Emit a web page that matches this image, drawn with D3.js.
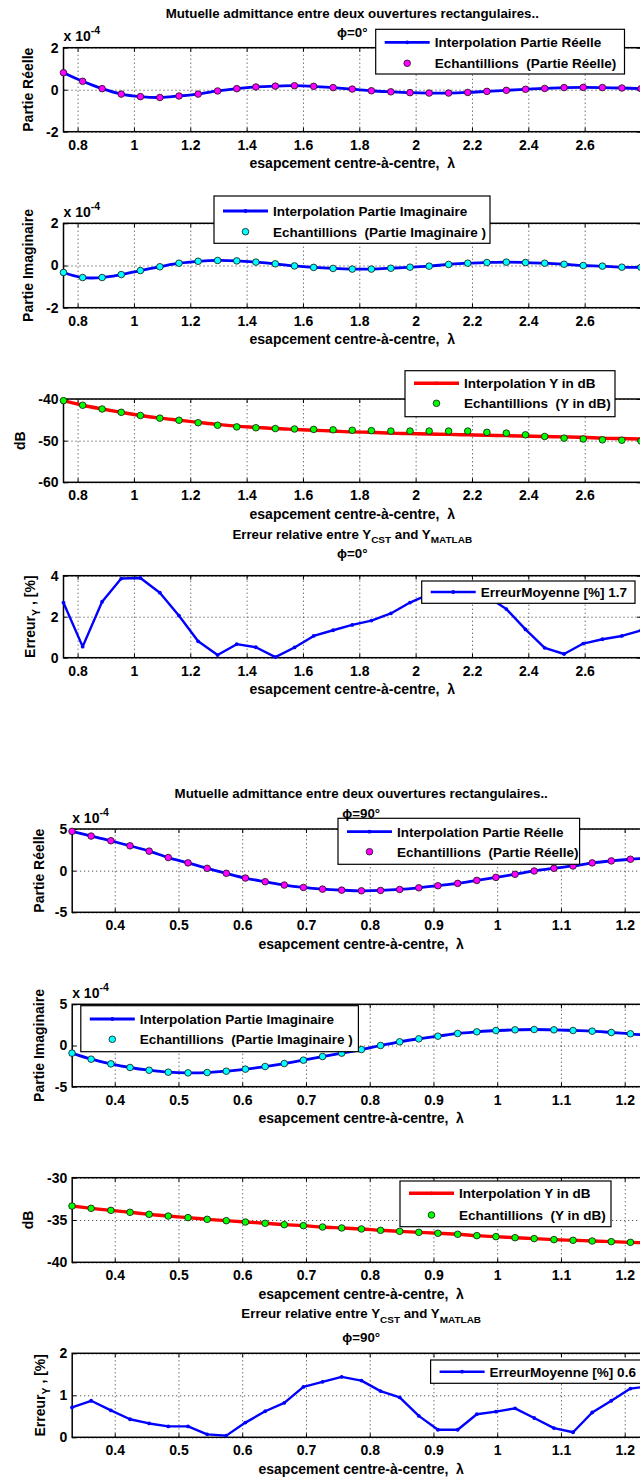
<!DOCTYPE html>
<html><head><meta charset="utf-8">
<script src="https://cdn.jsdelivr.net/npm/d3@7"></script>
<style>body{margin:0;background:#fff;} svg{display:block;} text{white-space:pre;}</style>
</head><body>
<script>
// ---------- DATA ----------
const xTop = [0.75,0.818,0.887,0.955,1.023,1.092,1.16,1.228,1.297,1.365,1.433,1.502,1.57,1.638,1.707,1.775,1.843,1.912,1.98,2.048,2.117,2.185,2.253,2.322,2.39,2.458,2.527,2.595,2.663,2.732,2.8];
const reTop = [0.81,0.40,0.05,-0.21,-0.33,-0.37,-0.30,-0.21,-0.06,0.05,0.13,0.17,0.19,0.16,0.10,0.03,-0.05,-0.10,-0.14,-0.16,-0.16,-0.13,-0.08,-0.03,0.02,0.06,0.10,0.11,0.10,0.08,0.05];
const imTop = [-0.33,-0.57,-0.57,-0.43,-0.24,-0.06,0.11,0.20,0.24,0.22,0.16,0.08,-0.02,-0.09,-0.14,-0.17,-0.17,-0.13,-0.08,-0.03,0.05,0.11,0.14,0.16,0.14,0.11,0.06,0.0,-0.03,-0.08,-0.09];
const dbTopSamples = [-40.4,-41.5,-42.4,-43.2,-43.95,-44.6,-45.1,-45.7,-46.3,-46.7,-46.9,-47.1,-47.2,-47.3,-47.4,-47.5,-47.6,-47.7,-47.7,-47.7,-47.7,-47.7,-48.0,-48.2,-48.6,-49.0,-49.4,-49.6,-49.8,-49.9,-50.1];
const dbTopInterp = [-40.4,-41.5,-42.4,-43.2,-43.95,-44.6,-45.1,-45.6,-46.1,-46.5,-46.8,-47.1,-47.3,-47.5,-47.7,-47.9,-48.0,-48.2,-48.3,-48.4,-48.5,-48.6,-48.7,-48.8,-48.9,-49.0,-49.1,-49.2,-49.4,-49.5,-49.6];
const errTop = [2.68,0.54,2.73,3.86,3.89,3.17,2.05,0.80,0.13,0.66,0.51,0.03,0.50,1.06,1.34,1.60,1.81,2.16,2.69,3.1,3.4,3.4,3.0,2.37,1.38,0.48,0.18,0.69,0.90,1.06,1.33];

const x90 = [0.333,0.363,0.394,0.424,0.454,0.484,0.515,0.545,0.575,0.605,0.636,0.666,0.696,0.726,0.756,0.787,0.817,0.847,0.877,0.907,0.938,0.968,0.998,1.028,1.058,1.089,1.119,1.149,1.179,1.209,1.24];
const re90 = [4.72,4.15,3.59,2.98,2.34,1.57,0.93,0.28,-0.32,-0.89,-1.33,-1.73,-2.02,-2.22,-2.34,-2.42,-2.38,-2.26,-2.06,-1.81,-1.53,-1.17,-0.81,-0.44,-0.04,0.28,0.56,0.93,1.17,1.37,1.53];
const im90 = [-0.93,-1.66,-2.23,-2.67,-3.0,-3.24,-3.32,-3.28,-3.12,-2.87,-2.55,-2.19,-1.78,-1.34,-0.93,-0.49,0.0,0.45,0.81,1.13,1.46,1.66,1.82,1.90,1.94,1.90,1.82,1.74,1.58,1.42,1.18];
const db90 = [-33.35,-33.62,-33.86,-34.09,-34.33,-34.53,-34.72,-34.92,-35.08,-35.24,-35.39,-35.55,-35.67,-35.83,-35.94,-36.06,-36.22,-36.34,-36.46,-36.57,-36.69,-36.85,-36.97,-37.09,-37.2,-37.32,-37.4,-37.48,-37.56,-37.64,-37.72];
const err90 = [0.71,0.87,0.64,0.43,0.33,0.26,0.26,0.07,0.04,0.35,0.62,0.82,1.20,1.32,1.44,1.35,1.10,0.95,0.51,0.18,0.18,0.55,0.61,0.69,0.46,0.22,0.12,0.59,0.87,1.16,1.22];

const xTicksTop = [0.8,1,1.2,1.4,1.6,1.8,2,2.2,2.4,2.6];
const xTicks90 = [0.4,0.5,0.6,0.7,0.8,0.9,1,1.1,1.2];
const yTicksAdm = [-2,0,2];
const yTicksDbTop = [-60,-50,-40];
const yTicksErrTop = [0,2,4];
const yTicksAdm90 = [-5,0,5];
const yTicksDb90 = [-40,-35,-30];
const yTicksErr90 = [0,1,2];

const mainTitle = "Mutuelle admittance entre deux ouvertures rectangulaires..";
const xLabel = "esapcement centre-à-centre,  λ";

// ---------- STYLE ----------
const FONT = "'Liberation Sans', Arial, Helvetica, sans-serif";
const BLUE = "#0000ff", RED = "#ff0000", MAG = "#ff00ff", CYAN = "#00ffff", GREEN = "#00ff00";

const svg = d3.select("body").append("svg").attr("width", 640).attr("height", 1479);

function styleText(sel, size) {
  sel.attr("font-family", FONT).attr("font-weight", "bold").attr("font-size", size).attr("fill", "#000")
    .attr("xml:space", "preserve").style("white-space", "pre");
}

function rich(sel, parts, size) {
  parts.forEach(p => {
    const t = sel.append("tspan").text(p.t);
    if (p.sub) t.attr("font-size", size * 0.75).attr("dy", size * 0.35);
    else if (p.sup) t.attr("font-size", size * 0.75).attr("dy", -size * 0.5);
    else if (p.reset) t.attr("dy", -p.reset);
  });
}

function panel(c) {
  const x = d3.scaleLinear().domain(c.xd).range([c.l, c.r]);
  const y = d3.scaleLinear().domain(c.yd).range([c.b, c.t]);
  const h = c.b - c.t, w = c.r - c.l;
  const g = svg.append("g");

  // grid
  g.append("g").attr("transform", `translate(0,${c.b})`)
    .call(d3.axisBottom(x).tickValues(c.xt).tickSize(-h).tickFormat(""))
    .call(s => { s.select(".domain").remove(); s.selectAll("line").attr("stroke", "#333").attr("stroke-dasharray", "1,3"); });
  g.append("g").attr("transform", `translate(${c.l},0)`)
    .call(d3.axisLeft(y).tickValues(c.yt).tickSize(-w).tickFormat(""))
    .call(s => { s.select(".domain").remove(); s.selectAll("line").attr("stroke", "#333").attr("stroke-dasharray", "1,3"); });

  // axes with inward ticks
  const fixAxis = s => { s.select(".domain").remove(); s.selectAll("line").attr("stroke", "#000").attr("stroke-width", 1); styleText(s.selectAll("text"), 14); };
  g.append("g").attr("transform", `translate(0,${c.b})`)
    .call(d3.axisBottom(x).tickValues(c.xt).tickSizeInner(-4).tickSizeOuter(0).tickPadding(8).tickFormat(d => String(d)))
    .call(fixAxis);
  g.append("g").attr("transform", `translate(0,${c.t})`)
    .call(d3.axisTop(x).tickValues(c.xt).tickSizeInner(-4).tickSizeOuter(0).tickFormat(""))
    .call(fixAxis);
  g.append("g").attr("transform", `translate(${c.l},0)`)
    .call(d3.axisLeft(y).tickValues(c.yt).tickSizeInner(-4).tickSizeOuter(0).tickPadding(5).tickFormat(d => String(d)))
    .call(fixAxis);
  g.append("g").attr("transform", `translate(${c.r},0)`)
    .call(d3.axisRight(y).tickValues(c.yt).tickSizeInner(-4).tickSizeOuter(0).tickFormat(""))
    .call(fixAxis);

  g.append("rect").attr("x", c.l).attr("y", c.t).attr("width", w).attr("height", h)
    .attr("fill", "none").attr("stroke", "#000").attr("stroke-width", 1.5);

  // series
  c.series.forEach(s => {
    if (s.type === "line") {
      const line = d3.line().x((d, i) => x(s.xs[i])).y(d => y(d)).curve(s.smooth ? d3.curveCatmullRom : d3.curveLinear);
      g.append("path").datum(s.ys).attr("d", line).attr("fill", "none")
        .attr("stroke", s.color).attr("stroke-width", s.width).attr("stroke-linejoin", "round");
      if (s.dots) {
        g.append("g").selectAll("circle").data(s.ys).join("circle")
          .attr("cx", (d, i) => x(s.xs[i])).attr("cy", d => y(d)).attr("r", 1.9).attr("fill", s.color);
      }
    } else {
      g.append("g").selectAll("circle").data(s.ys).join("circle")
        .attr("cx", (d, i) => x(s.xs[i])).attr("cy", d => y(d)).attr("r", 3.3)
        .attr("fill", s.color).attr("stroke", "#111").attr("stroke-width", 0.8);
    }
  });

  // legend
  const L = c.legend;
  const lg = svg.append("g");
  lg.append("rect").attr("x", L.x).attr("y", L.y).attr("width", L.w).attr("height", L.h)
    .attr("fill", "#fff").attr("stroke", "#000").attr("stroke-width", 1.2);
  L.items.forEach((it, i) => {
    const ry = L.rows[i];
    if (it.type === "line") {
      lg.append("line").attr("x1", L.x + 9).attr("x2", L.x + 54).attr("y1", ry).attr("y2", ry)
        .attr("stroke", it.color).attr("stroke-width", it.width);
      lg.append("circle").attr("cx", L.x + 31.5).attr("cy", ry).attr("r", 1.9).attr("fill", it.color);
    } else {
      lg.append("circle").attr("cx", L.x + 31.5).attr("cy", ry).attr("r", 3.3)
        .attr("fill", it.color).attr("stroke", "#111").attr("stroke-width", 0.8);
    }
    styleText(lg.append("text").attr("x", L.x + 59).attr("y", ry).attr("dy", "0.36em").text(it.label), 13.5);
  });

  // titles
  if (c.title) {
    c.title.forEach(tl => {
      const t = svg.append("text").attr("x", (c.l + c.r) / 2).attr("y", tl.y).attr("text-anchor", "middle");
      styleText(t, 13.3);
      rich(t, tl.parts, 13.3);
    });
  }
  // y label
  const yl = svg.append("text").attr("text-anchor", "middle")
    .attr("transform", `translate(${c.ylx},${(c.t + c.b) / 2}) rotate(-90)`);
  styleText(yl, 14);
  rich(yl, c.ylabel, 14);
  // x label
  styleText(svg.append("text").attr("x", (c.l + c.r) / 2).attr("y", c.b + 36.5)
    .attr("text-anchor", "middle").text(xLabel), 14);
  // exponent
  if (c.expo) {
    const e = svg.append("text").attr("x", c.l).attr("y", c.t - 6.5);
    styleText(e, 14);
    rich(e, [{t: "x 10"}, {t: "-4", sup: true}], 14);
  }
}

const TOP = {l: 63.5, r: 641, xd: [0.75, 2.8], xt: xTicksTop};
const BOT = {l: 72.2, r: 650.2, xd: [0.3333, 1.24], xt: xTicks90};

panel(Object.assign({}, TOP, {
  t: 47.7, b: 131.7, yd: [-2, 2], yt: yTicksAdm, expo: true, ylx: 33,
  ylabel: [{t: "Partie Réelle"}],
  title: [{y: 18, parts: [{t: mainTitle}]}, {y: 36.5, parts: [{t: "ϕ=0°"}]}],
  series: [
    {type: "line", xs: xTop, ys: reTop, color: BLUE, width: 2.8, smooth: true},
    {type: "scatter", xs: xTop, ys: reTop, color: MAG}
  ],
  legend: {x: 375.7, y: 29.3, w: 248.8, h: 44.7, rows: [42.3, 63.3], items: [
    {type: "line", color: BLUE, width: 2.8, label: "Interpolation Partie Réelle"},
    {type: "marker", color: MAG, label: "Echantillions  (Partie Réelle)"}]}
}));

panel(Object.assign({}, TOP, {
  t: 223.3, b: 307.7, yd: [-2, 2], yt: yTicksAdm, expo: true, ylx: 33,
  ylabel: [{t: "Partie Imaginaire"}],
  series: [
    {type: "line", xs: xTop, ys: imTop, color: BLUE, width: 2.8, smooth: true},
    {type: "scatter", xs: xTop, ys: imTop, color: CYAN}
  ],
  legend: {x: 214, y: 196, w: 276, h: 47.3, rows: [211, 231.7], items: [
    {type: "line", color: BLUE, width: 2.8, label: "Interpolation Partie Imaginaire"},
    {type: "marker", color: CYAN, label: "Echantillions  (Partie Imaginaire )"}]}
}));

panel(Object.assign({}, TOP, {
  t: 399, b: 482.3, yd: [-60, -40], yt: yTicksDbTop, ylx: 25,
  ylabel: [{t: "dB"}],
  series: [
    {type: "line", xs: xTop, ys: dbTopInterp, color: RED, width: 3.4, smooth: true},
    {type: "scatter", xs: xTop, ys: dbTopSamples, color: GREEN}
  ],
  legend: {x: 405, y: 370.7, w: 210, h: 46, rows: [383.3, 403.3], items: [
    {type: "line", color: RED, width: 3.4, label: "Interpolation Y in dB"},
    {type: "marker", color: GREEN, label: "Echantillions  (Y in dB)"}]}
}));

panel(Object.assign({}, TOP, {
  t: 575.7, b: 657.7, yd: [0, 4], yt: yTicksErrTop, ylx: 35,
  ylabel: [{t: "Erreur"}, {t: "Y", sub: true}, {t: " , [%]", reset: 4.9}],
  title: [{y: 538.5, parts: [{t: "Erreur relative entre Y"}, {t: "CST", sub: true}, {t: " and Y", reset: 4.65}, {t: "MATLAB", sub: true}]},
          {y: 558, parts: [{t: "ϕ=0°"}]}],
  series: [{type: "line", xs: xTop, ys: errTop, color: BLUE, width: 2.4, dots: true}],
  legend: {x: 421.7, y: 581, w: 213.3, h: 22.3, rows: [592], items: [
    {type: "line", color: BLUE, width: 2.4, label: "ErreurMoyenne [%] 1.7"}]}
}));

panel(Object.assign({}, BOT, {
  t: 829, b: 912.3, yd: [-5, 5], yt: yTicksAdm90, expo: true, ylx: 44,
  ylabel: [{t: "Partie Réelle"}],
  title: [{y: 798, parts: [{t: mainTitle}]}, {y: 817.5, parts: [{t: "ϕ=90°"}]}],
  series: [
    {type: "line", xs: x90, ys: re90, color: BLUE, width: 2.8, smooth: true},
    {type: "scatter", xs: x90, ys: re90, color: MAG}
  ],
  legend: {x: 338, y: 818.3, w: 241.6, h: 46, rows: [831.7, 851.7], items: [
    {type: "line", color: BLUE, width: 2.8, label: "Interpolation Partie Réelle"},
    {type: "marker", color: MAG, label: "Echantillions  (Partie Réelle)"}]}
}));

panel(Object.assign({}, BOT, {
  t: 1004.3, b: 1086.7, yd: [-5, 5], yt: yTicksAdm90, expo: true, ylx: 44,
  ylabel: [{t: "Partie Imaginaire"}],
  series: [
    {type: "line", xs: x90, ys: im90, color: BLUE, width: 2.8, smooth: true},
    {type: "scatter", xs: x90, ys: im90, color: CYAN}
  ],
  legend: {x: 80.8, y: 1005.7, w: 277.6, h: 46, rows: [1019, 1039.3], items: [
    {type: "line", color: BLUE, width: 2.8, label: "Interpolation Partie Imaginaire"},
    {type: "marker", color: CYAN, label: "Echantillions  (Partie Imaginaire )"}]}
}));

panel(Object.assign({}, BOT, {
  t: 1177.7, b: 1262.3, yd: [-40, -30], yt: yTicksDb90, ylx: 33,
  ylabel: [{t: "dB"}],
  series: [
    {type: "line", xs: x90, ys: db90, color: RED, width: 3.4, smooth: true},
    {type: "scatter", xs: x90, ys: db90, color: GREEN}
  ],
  legend: {x: 400, y: 1181, w: 211, h: 45.7, rows: [1193.3, 1215], items: [
    {type: "line", color: RED, width: 3.4, label: "Interpolation Y in dB"},
    {type: "marker", color: GREEN, label: "Echantillions  (Y in dB)"}]}
}));

panel(Object.assign({}, BOT, {
  t: 1353.3, b: 1437.3, yd: [0, 2], yt: yTicksErr90, ylx: 45,
  ylabel: [{t: "Erreur"}, {t: "Y", sub: true}, {t: " , [%]", reset: 4.9}],
  title: [{y: 1318, parts: [{t: "Erreur relative entre Y"}, {t: "CST", sub: true}, {t: " and Y", reset: 4.65}, {t: "MATLAB", sub: true}]},
          {y: 1341.5, parts: [{t: "ϕ=90°"}]}],
  series: [{type: "line", xs: x90, ys: err90, color: BLUE, width: 2.4, dots: true}],
  legend: {x: 430.6, y: 1360, w: 215, h: 23.3, rows: [1371.7], items: [
    {type: "line", color: BLUE, width: 2.4, label: "ErreurMoyenne [%] 0.6"}]}
}));
</script>
</body></html>
